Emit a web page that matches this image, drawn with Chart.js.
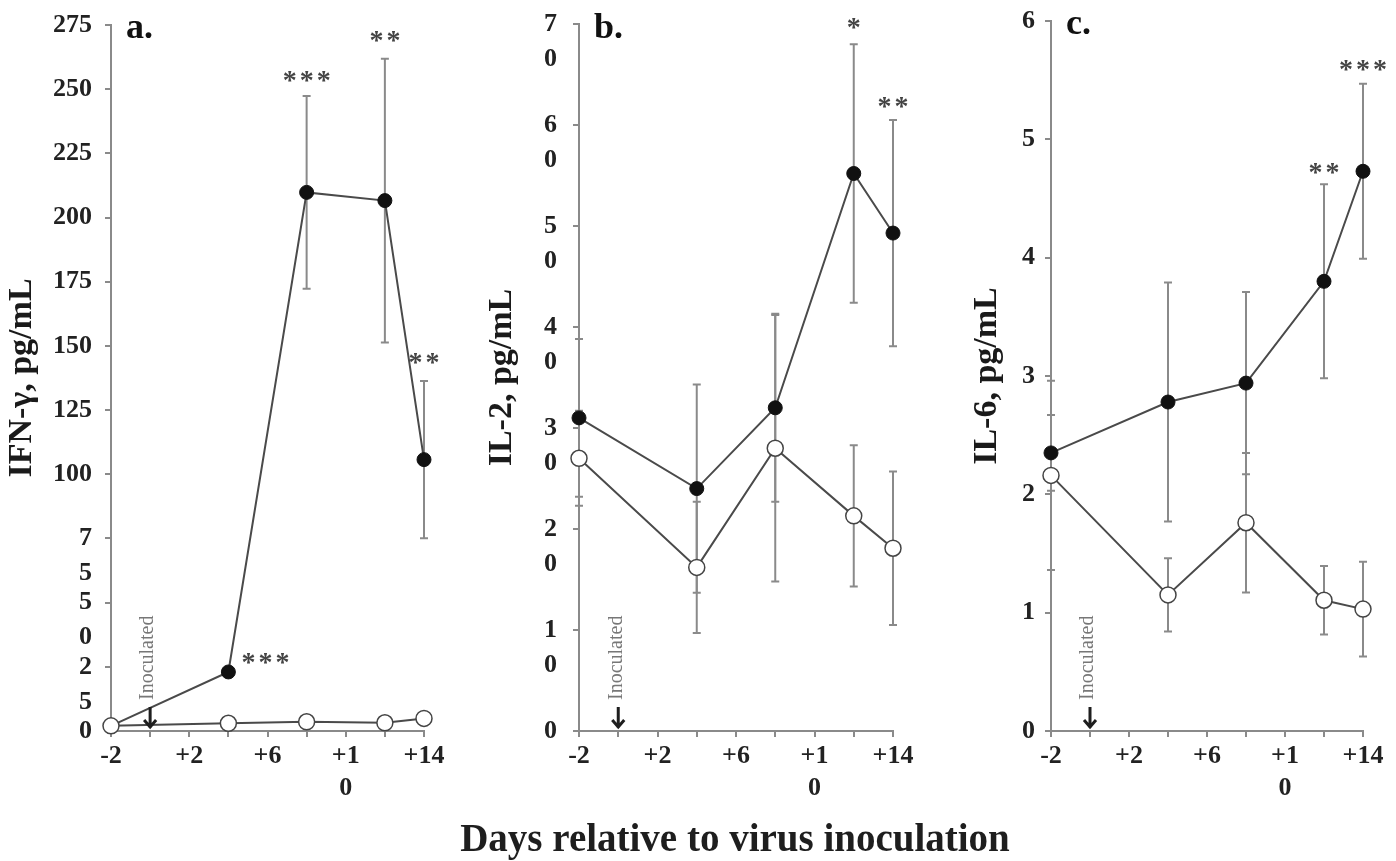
<!DOCTYPE html>
<html>
<head>
<meta charset="utf-8">
<script src="https://cdn.jsdelivr.net/npm/chart.js@4.4.1/dist/chart.umd.min.js"></script>
<style>
  body { margin: 0; background: #fff; width: 1396px; height: 861px; overflow: hidden; position: relative; }
  .panel { position: absolute; top: 0; }
  #x-title {
    position: absolute; left: 0; top: 815px; width: 1470px; text-align: center;
    font: bold 39px 'Liberation Serif', serif; color: #1e1e1e; white-space: nowrap;
  }
</style>
</head>
<body>
<div class="panel" style="left:0px"><canvas id="chart-a" width="465" height="861"></canvas></div>
<div class="panel" style="left:465px"><canvas id="chart-b" width="465" height="861"></canvas></div>
<div class="panel" style="left:930px"><canvas id="chart-c" width="466" height="861"></canvas></div>
<div id="x-title">Days relative to virus inoculation</div>
<script>
// sampling days and x tick labels (one per 2-day tick, -2 .. +14)
const days = [-2, 4, 8, 12, 14];
const xTickLabels = ['-2', '', '+2', '', '+6', '', ['+1', '0'], '', '+14'];

// a. IFN-gamma
const ifnInfected = [2, 23, 209.8, 206.6, 105.7];
const ifnInfectedErr = [0, 0, 37.5, 55.3, 30.6];
const ifnControl = [2, 3, 3.6, 3.2, 4.9];
const ifnControlErr = [0, 0, 0, 0, 0];
const ifnTickLabels = ['0', ['', '2', '5'], ['', '5', '0'], ['', '7', '5'], '100', '125', '150', '175', '200', '225', '250', '275'];
const ifnStars = [
    { day: 5.9, value: 29, text: '***' },
    { day: 8, value: 255.5, text: '***' },
    { day: 12, value: 271, text: '**' },
    { day: 14, value: 145.6, text: '**' }
];

// b. IL-2
const il2Infected = [31, 24, 32, 55.2, 49.3];
const il2InfectedErr = [7.8, 10.3, 9.3, 12.8, 11.2];
const il2Control = [27, 16.2, 28, 21.3, 18.1];
const il2ControlErr = [4.7, 6.5, 13.2, 7, 7.6];
const il2TickLabels = ['0', ['', '1', '0'], ['', '2', '0'], ['', '3', '0'], ['', '4', '0'], ['', '5', '0'], ['', '6', '0'], ['', '7', '0']];
const il2Stars = [
    { day: 12, value: 70.2, text: '*' },
    { day: 14, value: 62.4, text: '**' }
];

// c. IL-6
const il6Infected = [2.35, 2.78, 2.94, 3.80, 4.73];
const il6InfectedErr = [0.32, 1.01, 0.77, 0.82, 0.74];
const il6Control = [2.16, 1.15, 1.76, 1.105, 1.03];
const il6ControlErr = [0.8, 0.31, 0.59, 0.29, 0.4];
const il6TickLabels = ['0', '1', '2', '3', '4', '5', '6'];
const il6Stars = [
    { day: 12, value: 4.77, text: '**' },
    { day: 14, value: 5.64, text: '***' }
];

const SERIF = "'Liberation Serif', 'Times New Roman', serif";
const AXIS_GRAY = '#8a8a8a';

const errorBars = {
    id: 'errorBars',
    beforeDatasetsDraw(chart, args, opts) {
        const { ctx, scales: { x, y } } = chart;
        ctx.save();
        ctx.strokeStyle = AXIS_GRAY;
        ctx.lineWidth = 2;
        chart.data.datasets.forEach((ds, di) => {
            const errs = opts.errors[di] || [];
            ds.data.forEach((p, i) => {
                const e = errs[i];
                if (!e) return;
                const px = x.getPixelForValue(p.x);
                const top = y.getPixelForValue(p.y + e);
                const bot = y.getPixelForValue(p.y - e);
                ctx.beginPath();
                ctx.moveTo(px, top); ctx.lineTo(px, bot);
                ctx.moveTo(px - 4, top); ctx.lineTo(px + 4, top);
                ctx.moveTo(px - 4, bot); ctx.lineTo(px + 4, bot);
                ctx.stroke();
            });
        });
        ctx.restore();
    }
};

const annotations = {
    id: 'annotations',
    afterDatasetsDraw(chart, args, opts) {
        const { ctx, chartArea, scales: { x, y } } = chart;
        ctx.save();

        // panel letter
        ctx.fillStyle = '#111';
        ctx.font = `bold 36px ${SERIF}`;
        ctx.textAlign = 'left';
        ctx.textBaseline = 'alphabetic';
        ctx.fillText(opts.letter, chartArea.left + 15, chartArea.top + opts.letterDrop);

        // significance stars
        ctx.fillStyle = '#444';
        ctx.font = `bold 28px ${SERIF}`;
        ctx.textAlign = 'center';
        opts.stars.forEach(s => {
            const cx = x.getPixelForValue(s.day);
            const cy = y.getPixelForValue(s.value);
            const n = s.text.length;
            for (let k = 0; k < n; k++) {
                ctx.fillText('*', cx + (k - (n - 1) / 2) * 17, cy + 14);
            }
        });

        // inoculation marker at day 0
        const ax = x.getPixelForValue(0);
        const tip = y.getPixelForValue(0) - 3;
        ctx.strokeStyle = '#1e1e1e';
        ctx.lineWidth = 3;
        ctx.beginPath();
        ctx.moveTo(ax, tip - 21); ctx.lineTo(ax, tip);
        ctx.moveTo(ax - 6, tip - 8); ctx.lineTo(ax, tip - 1); ctx.lineTo(ax + 6, tip - 8);
        ctx.stroke();

        ctx.translate(ax - 2, tip - 28);
        ctx.rotate(-Math.PI / 2);
        ctx.fillStyle = '#777';
        ctx.font = `20px ${SERIF}`;
        ctx.textAlign = 'left';
        ctx.textBaseline = 'middle';
        ctx.fillText('Inoculated', 0, 0);

        ctx.restore();
    }
};

function makePanel(id, cfg) {
    const ctx = document.getElementById(id).getContext('2d');
    const toPoints = vals => vals.map((v, i) => ({ x: days[i], y: v }));

    return new Chart(ctx, {
        type: 'line',
        data: {
            datasets: [
                {
                    label: 'Control',
                    data: toPoints(cfg.control),
                    borderColor: '#4a4a4a',
                    borderWidth: 2,
                    pointRadius: 8,
                    pointBackgroundColor: '#fff',
                    pointBorderColor: '#444',
                    pointBorderWidth: 1.5,
                    clip: false
                },
                {
                    label: 'Infected',
                    data: toPoints(cfg.infected),
                    borderColor: '#4a4a4a',
                    borderWidth: 2,
                    pointRadius: 7,
                    pointBackgroundColor: '#111',
                    pointBorderColor: '#111',
                    pointBorderWidth: 1,
                    clip: false
                }
            ]
        },
        options: {
            responsive: false,
            animation: false,
            layout: { padding: { left: 0, top: cfg.top, right: cfg.right, bottom: 50 } },
            plugins: {
                legend: { display: false },
                tooltip: { enabled: false },
                errorBars: { errors: [cfg.controlErr, cfg.infectedErr] },
                annotations: { letter: cfg.letter, letterDrop: cfg.letterDrop, stars: cfg.stars }
            },
            scales: {
                x: {
                    type: 'linear',
                    min: -2,
                    max: 14,
                    border: { color: AXIS_GRAY, width: 2 },
                    grid: { drawOnChartArea: false, drawTicks: true, tickLength: 6, color: AXIS_GRAY, lineWidth: 2 },
                    ticks: {
                        stepSize: 2,
                        autoSkip: false,
                        maxRotation: 0,
                        padding: 3,
                        color: '#222',
                        font: { family: SERIF, weight: 'bold', size: 26, lineHeight: 1.25 },
                        callback: (v, i) => xTickLabels[i]
                    },
                    afterFit: s => { s.height = 80; s.paddingLeft = 0; s.paddingRight = 0; }
                },
                y: {
                    min: 0,
                    max: cfg.max,
                    border: { color: AXIS_GRAY, width: 2 },
                    grid: { drawOnChartArea: false, drawTicks: true, tickLength: 6, color: AXIS_GRAY, lineWidth: 2 },
                    ticks: {
                        stepSize: cfg.step,
                        autoSkip: false,
                        padding: cfg.tickPad,
                        color: '#222',
                        font: { family: SERIF, weight: 'bold', size: 26, lineHeight: 1.35 },
                        callback: (v, i) => cfg.tickLabels[i]
                    },
                    title: {
                        display: true,
                        text: cfg.title,
                        color: '#1a1a1a',
                        padding: { top: cfg.titlePad, bottom: 0 },
                        font: { family: SERIF, weight: 'bold', size: 34, lineHeight: 1.2 }
                    },
                    afterFit: s => { s.width = cfg.axisWidth; s.paddingTop = 0; s.paddingBottom = 0; }
                }
            }
        },
        plugins: [errorBars, annotations]
    });
}

makePanel('chart-a', {
    infected: ifnInfected, infectedErr: ifnInfectedErr,
    control: ifnControl, controlErr: ifnControlErr,
    tickLabels: ifnTickLabels, stars: ifnStars,
    max: 275, step: 25, title: 'IFN-γ, pg/mL', letter: 'a.',
    axisWidth: 111, top: 25, right: 41, tickPad: 13, titlePad: 2, letterDrop: 13
});

makePanel('chart-b', {
    infected: il2Infected, infectedErr: il2InfectedErr,
    control: il2Control, controlErr: il2ControlErr,
    tickLabels: il2TickLabels, stars: il2Stars,
    max: 70, step: 10, title: 'IL-2, pg/mL', letter: 'b.',
    axisWidth: 114, top: 24, right: 37, tickPad: 16, titlePad: 17, letterDrop: 14
});

makePanel('chart-c', {
    infected: il6Infected, infectedErr: il6InfectedErr,
    control: il6Control, controlErr: il6ControlErr,
    tickLabels: il6TickLabels, stars: il6Stars,
    max: 6, step: 1, title: 'IL-6, pg/mL', letter: 'c.',
    axisWidth: 121, top: 21, right: 33, tickPad: 10, titlePad: 37, letterDrop: 13
});
</script>
</body>
</html>
